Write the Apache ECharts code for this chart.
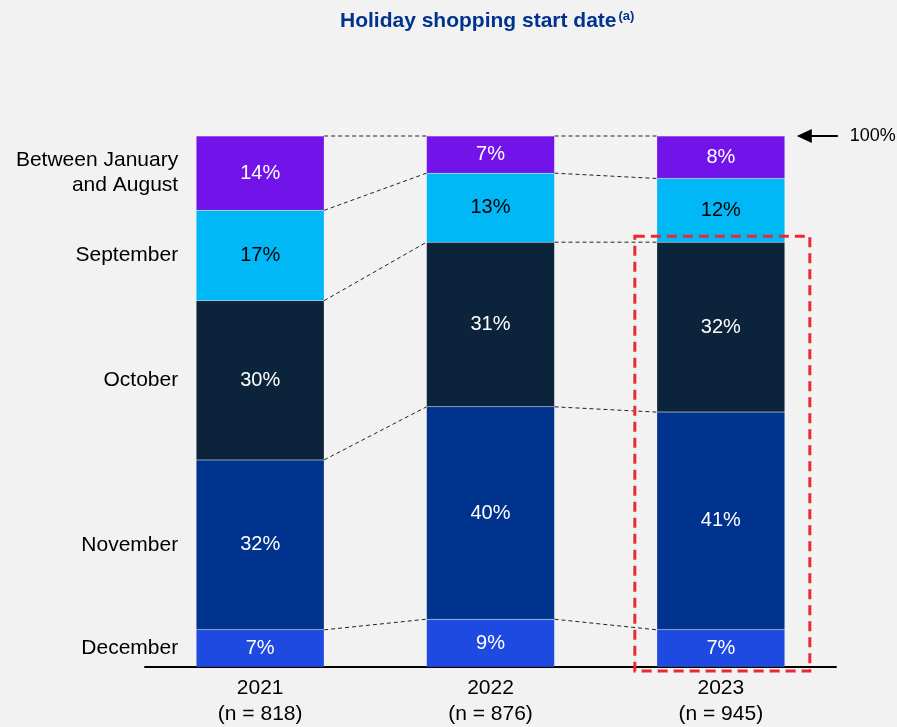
<!DOCTYPE html>
<html>
<head>
<meta charset="utf-8">
<script src="https://cdn.jsdelivr.net/npm/echarts@6/dist/echarts.min.js"></script>
<style>
  html, body { margin: 0; padding: 0; background: #f2f2f2; }
  #main { width: 897px; height: 727px; }
</style>
</head>
<body>
<div id="main"></div>
<script>
// data
const years = ['2021\n(n = 818)', '2022\n(n = 876)', '2023\n(n = 945)']
const segNames = ['December', 'November', 'October', 'September', 'Between January\nand August']
const december = [7, 9, 7]
const november = [32, 40, 41]
const october = [30, 31, 32]
const september = [17, 13, 12]
const janAug = [14, 7, 8]

const segValues = [december, november, october, september, janAug]
const segColors = ['#1f4ae2', '#00338d', '#0c233c', '#00b8f5', '#7213ea']
const labelColors = ['#fff', '#fff', '#fff', '#000', '#fff']

const BAR_W = 128
const FONT = 'Liberation Sans, Arial, sans-serif'

let mychart = echarts.init(document.getElementById('main'))

// cumulative tops of each segment per year (from the data)
const tops = years.map((y, i) => {
    let acc = 0
    return segValues.map(arr => (acc += arr[i]))
})

// connector lines: one per boundary between neighbouring bars
const connectors = []
for (let i = 0; i < years.length - 1; i++) {
    for (let s = 0; s < segValues.length; s++) {
        connectors.push([i, tops[i][s], tops[i + 1][s]])
    }
}

const barSeries = segValues.map((arr, s) => ({
    name: segNames[s],
    type: 'bar',
    stack: 'total',
    barWidth: BAR_W,
    data: arr,
    itemStyle: { color: segColors[s], borderColor: 'rgba(255,255,255,0.15)', borderWidth: 0.5 },
    label: {
        show: true,
        position: 'inside',
        formatter: '{c}%',
        color: labelColors[s],
        fontFamily: FONT,
        fontSize: 20
    },
    z: 3
}))

// invisible copy of the stack, used to put the category names left of the first bar
const nameSeries = segValues.map((arr, s) => ({
    type: 'bar',
    stack: 'names',
    barWidth: BAR_W,
    barGap: '-100%',
    silent: true,
    data: arr.map((v, i) => ({
        value: v,
        label: { show: i === 0 }
    })),
    itemStyle: { color: 'transparent' },
    label: {
        position: 'left',
        distance: 18,
        formatter: segNames[s],
        color: '#000',
        fontFamily: FONT,
        fontSize: 21,
        lineHeight: 25
    },
    z: 1
}))

const option = {
    backgroundColor: '#f2f2f2',
    animation: false,
    title: {
        text: '{t|Holiday shopping start date}{s|(a)}',
        left: 335,
        top: 5,
        textStyle: {
            rich: {
                t: { fontFamily: FONT, fontSize: 21, fontWeight: 'bold', color: '#00338d' },
                s: { fontFamily: FONT, fontSize: 13, fontWeight: 'bold', color: '#00338d', verticalAlign: 'top', padding: [0, 0, 9, 2] }
            }
        }
    },
    grid: { left: 145, right: 61, top: 136, bottom: 60 },
    xAxis: {
        type: 'category',
        data: years,
        axisLine: { lineStyle: { color: '#000', width: 2 } },
        axisTick: { show: false },
        axisLabel: { color: '#000', fontFamily: FONT, fontSize: 21, lineHeight: 26, margin: 8 }
    },
    yAxis: {
        type: 'value',
        min: 0,
        max: 100,
        show: false
    },
    series: [
        ...barSeries,
        ...nameSeries,
        {
            type: 'custom',
            silent: true,
            data: connectors,
            z: 2,
            renderItem: (params, api) => {
                const a = api.coord([api.value(0), api.value(1)])
                const b = api.coord([api.value(0) + 1, api.value(2)])
                return {
                    type: 'line',
                    shape: { x1: a[0] + BAR_W / 2, y1: a[1], x2: b[0] - BAR_W / 2, y2: b[1] },
                    style: { stroke: '#222', lineWidth: 1, lineDash: [4, 3] }
                }
            }
        }
    ]
}

mychart.setOption(option)

// highlight box round 2023 and the 100% arrow
const c2023 = mychart.convertToPixel({ xAxisIndex: 0 }, 2)
const yTop = mychart.convertToPixel({ yAxisIndex: 0 }, tops[2][2])
const yBase = mychart.convertToPixel({ yAxisIndex: 0 }, 0)
const y100 = mychart.convertToPixel({ yAxisIndex: 0 }, 100)
const arrowX = c2023 + BAR_W / 2 + 12

mychart.setOption({
    graphic: [
        {
            type: 'rect',
            shape: { x: c2023 - 86, y: yTop - 6, width: 175, height: yBase - yTop + 10 },
            style: { fill: 'none', stroke: '#ee2830', lineWidth: 3, lineDash: [10, 6] },
            z: 10
        },
        {
            type: 'line',
            shape: { x1: arrowX + 8, y1: y100, x2: arrowX + 41, y2: y100 },
            style: { stroke: '#000', lineWidth: 2 }
        },
        {
            type: 'polygon',
            shape: { points: [[arrowX, y100], [arrowX + 15, y100 - 7], [arrowX + 15, y100 + 7]] },
            style: { fill: '#000' }
        },
        {
            type: 'text',
            x: arrowX + 53,
            y: y100,
            style: { text: '100%', fill: '#000', font: '18px ' + FONT, textVerticalAlign: 'middle' }
        }
    ]
})

window.addEventListener('resize', () => {
    mychart.resize()
})
</script>
</body>
</html>
